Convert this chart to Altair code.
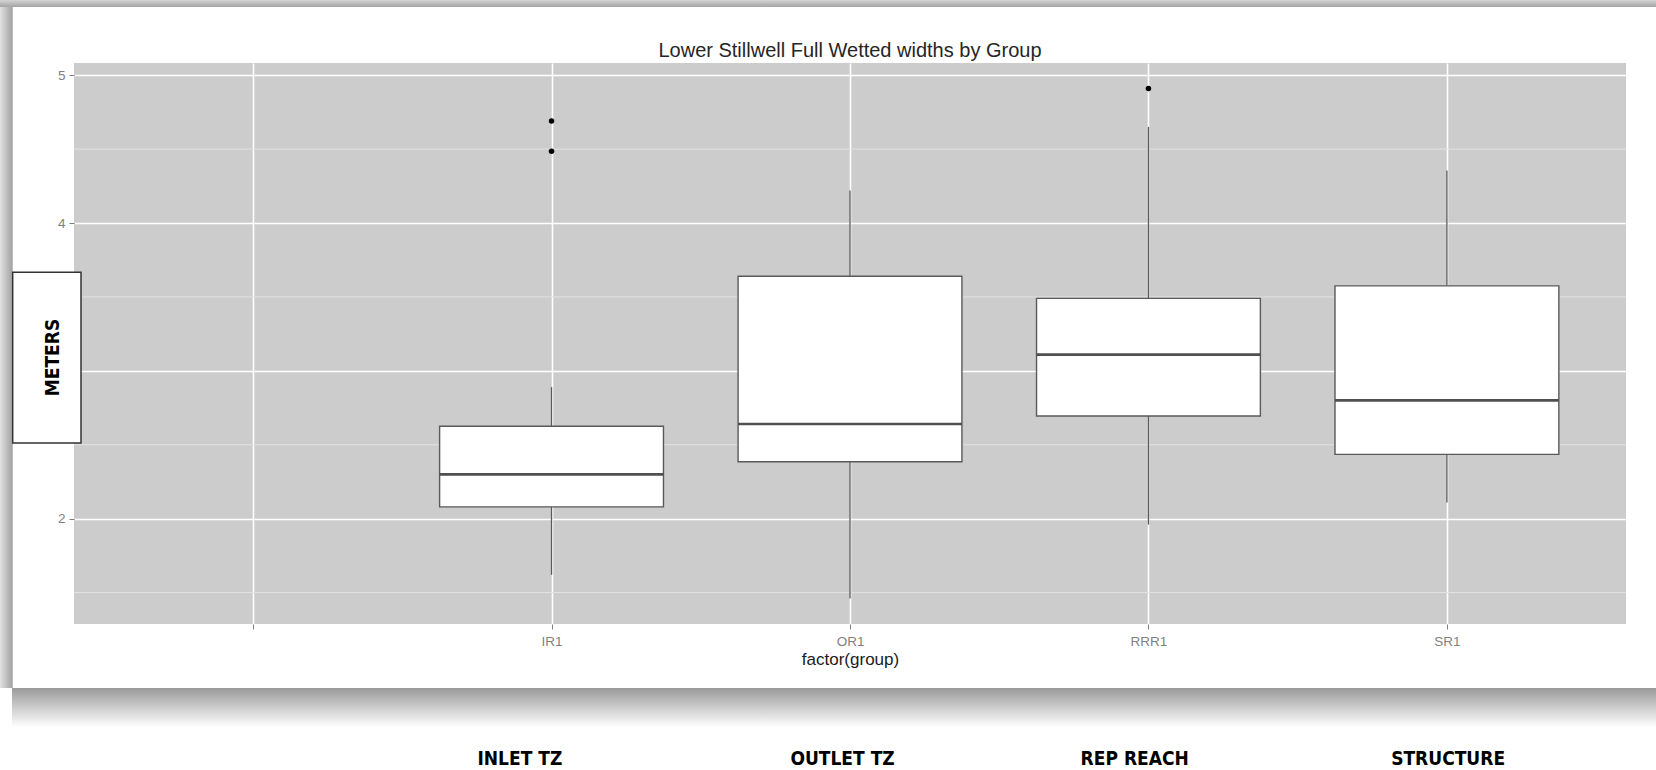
import json
import altair as alt
import pandas as pd

# ---- data -------------------------------------------------------------
groups = ["", "IR1", "OR1", "RRR1", "SR1"]          # x-axis factor levels
box_groups = ["IR1", "OR1", "RRR1", "SR1"]
whisker_low = [1.62, 1.46, 1.96, 2.11]
q1 = [2.08, 2.385, 2.695, 2.435]
median = [2.30, 2.64, 3.11, 2.80]
q3 = [2.625, 3.64, 3.49, 3.575]
whisker_high = [2.89, 4.22, 4.65, 4.355]
outlier_groups = ["IR1", "IR1", "RRR1"]
outlier_values = [4.69, 4.485, 4.91]

y_major = [2, 3, 4, 5]
y_minor = [1.5, 2.5, 3.5, 4.5]

captions = ["INLET TZ", "OUTLET TZ", "REP REACH", "STRUCTURE"]
caption_at = [1.894, 2.975, 3.954, 5.004]          # in x-axis units

title_text = "Lower Stillwell Full Wetted widths by Group"
x_title = "factor(group)"
y_badge = "METERS"

# ---- geometry helpers --------------------------------------------------
W, H = 1552, 561
pos = {g: i + 1 for i, g in enumerate(groups)}
half = 0.75 / 2  # box width = 0.75 of category spacing

boxes = pd.DataFrame({
    "group": box_groups,
    "x": [pos[g] for g in box_groups],
    "lo": whisker_low, "q1": q1, "med": median, "q3": q3, "hi": whisker_high,
})
boxes["left"] = boxes["x"] - half
boxes["right"] = boxes["x"] + half

whiskers = pd.concat([
    pd.DataFrame({"x": boxes["x"], "y": boxes["lo"], "y2": boxes["q1"]}),
    pd.DataFrame({"x": boxes["x"], "y": boxes["q3"], "y2": boxes["hi"]}),
])
outliers = pd.DataFrame({"x": [pos[g] for g in outlier_groups], "y": outlier_values})

all_vals = whisker_low + whisker_high + outlier_values
lo, hi = min(all_vals), max(all_vals)
span = hi - lo
y_dom = [lo - 0.05 * span, hi + 0.05 * span]

xs = alt.Scale(domain=[0.4, len(groups) + 0.6], nice=False, zero=False)
ys = alt.Scale(domain=y_dom, nice=False, zero=False)

label_expr = json.dumps(groups) + "[datum.value - 1]"

TICK_GREY = "#7f7f7f"
LINE_GREY = "#5a5a5a"
FONT = "Liberation Sans, Arial, sans-serif"
CAP_FONT = "Liberation Sans Narrow, DejaVu Sans Condensed, Liberation Sans, sans-serif"

x_axis = alt.Axis(values=list(range(1, len(groups) + 1)), labelExpr=label_expr,
                  title=x_title, grid=True, gridColor="white", gridWidth=1.6,
                  domain=False, ticks=True, tickColor=TICK_GREY, tickSize=5,
                  labelColor=TICK_GREY, labelFont=FONT, labelFontSize=13.5,
                  labelPadding=5, titleFont=FONT, titleFontSize=17,
                  titleFontWeight="normal", titleColor="#1a1a1a", titlePadding=4)
y_axis = alt.Axis(values=y_major, format="d", title=None, grid=True,
                  gridColor="white", gridWidth=1.6, domain=False, ticks=True,
                  tickColor=TICK_GREY, tickSize=5, labelColor=TICK_GREY,
                  labelFont=FONT, labelFontSize=13.5, labelPadding=4)

one = pd.DataFrame({"k": [0]})

# ---- card shadow around the figure ------------------------------------
def grad(c0, c1, horizontal):
    return alt.LinearGradient(
        gradient="linear",
        stops=[alt.GradientStop(color=c0, offset=0), alt.GradientStop(color=c1, offset=1)],
        x1=0, y1=0, x2=1 if horizontal else 0, y2=0 if horizontal else 1)

shadow_top = alt.Chart(one).mark_rect(fill=grad("#d4d4d4", "#a4a4a4", False)).encode(
    x=alt.value(-74), x2=alt.value(1582), y=alt.value(-63), y2=alt.value(-56))
shadow_left = alt.Chart(one).mark_rect(fill=grad("#e2e2e2", "#a0a0a0", True)).encode(
    x=alt.value(-74), x2=alt.value(-61.3), y=alt.value(-56), y2=alt.value(625))
shadow_bottom = alt.Chart(one).mark_rect(fill=grad("#9a9a9a", "#ffffff", False)).encode(
    x=alt.value(-62), x2=alt.value(1582), y=alt.value(625), y2=alt.value(664))

# ---- plot layers -------------------------------------------------------
minor = alt.Chart(pd.DataFrame({"y": y_minor})).mark_rule(
    color="#e3e3e3", strokeWidth=1).encode(y=alt.Y("y:Q", scale=ys, axis=y_axis))

whisk = alt.Chart(whiskers).mark_rule(color=LINE_GREY, strokeWidth=1.3).encode(
    x=alt.X("x:Q", scale=xs, axis=x_axis), y=alt.Y("y:Q", scale=ys), y2="y2:Q")

body = alt.Chart(boxes).mark_rect(fill="white", stroke=LINE_GREY, strokeWidth=1.4).encode(
    x=alt.X("left:Q", scale=xs), x2="right:Q", y=alt.Y("q1:Q", scale=ys), y2="q3:Q")

med = alt.Chart(boxes).mark_rule(color="#4f4f4f", strokeWidth=2.6).encode(
    x=alt.X("left:Q", scale=xs), x2="right:Q", y=alt.Y("med:Q", scale=ys))

outl = alt.Chart(outliers).mark_circle(color="black", size=30, opacity=1).encode(
    x=alt.X("x:Q", scale=xs), y=alt.Y("y:Q", scale=ys))

# ---- annotations -------------------------------------------------------
badge_box = alt.Chart(one).mark_rect(fill="white", stroke="#333333", strokeWidth=1.5).encode(
    x=alt.value(-61.3), x2=alt.value(7), y=alt.value(209.3), y2=alt.value(380))
badge_text = alt.Chart(pd.DataFrame({"t": [y_badge]})).mark_text(
    angle=270, font=CAP_FONT, fontWeight="bold", fontSize=19, color="black",
    align="center", baseline="middle").encode(
    x=alt.value(-21), y=alt.value(294.5), text="t:N")

caps = alt.Chart(pd.DataFrame({"t": captions, "x": caption_at})).mark_text(
    font=CAP_FONT, fontWeight="bold", fontSize=19, color="black",
    align="center", baseline="alphabetic").encode(
    x=alt.X("x:Q", scale=xs), y=alt.value(702), text="t:N")

title = alt.Chart(pd.DataFrame({"t": [title_text]})).mark_text(
    font=FONT, fontSize=20, color="#262626", align="center",
    baseline="alphabetic").encode(x=alt.value(W / 2), y=alt.value(-6), text="t:N")

chart = alt.layer(
    shadow_top, shadow_left, shadow_bottom,
    minor, whisk, body, med, outl,
    badge_box, badge_text, caps, title,
).properties(
    width=W, height=H,
    autosize=alt.AutoSizeParams(type="none"),
    padding={"left": 74, "top": 63, "right": 30, "bottom": 146},
    background="white",
).configure_view(fill="#cccccc", strokeWidth=0)

chart.save("out.html", embed_options={"renderer": "svg", "actions": False})
